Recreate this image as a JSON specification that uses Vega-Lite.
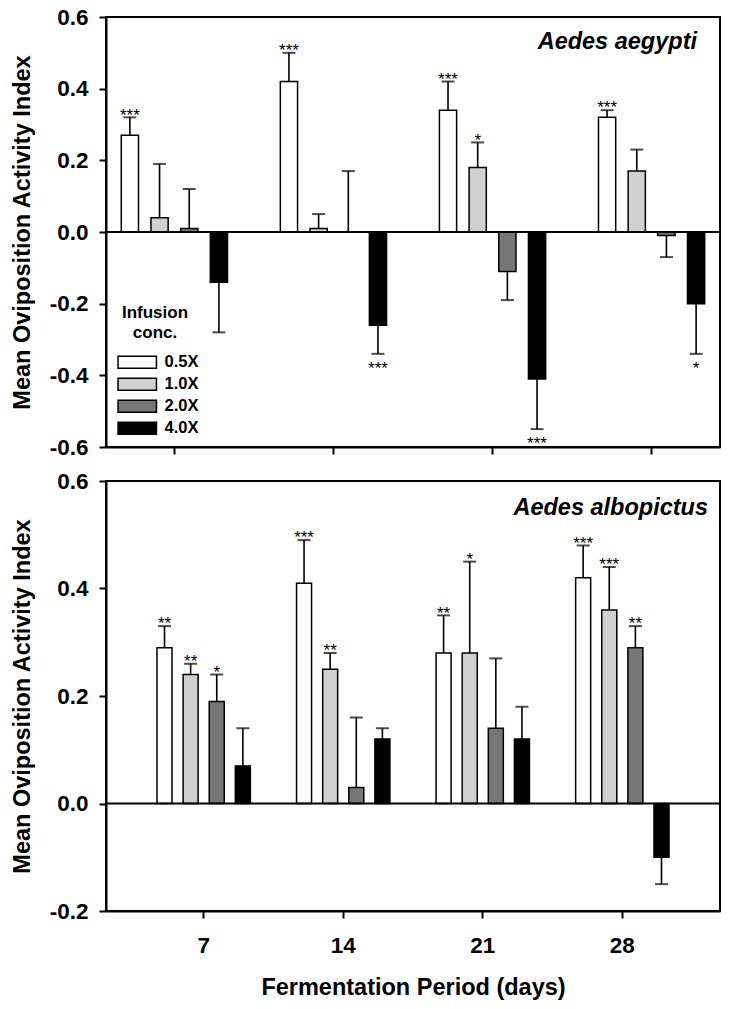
{
  "$schema": "https://vega.github.io/schema/vega-lite/v6.json",
  "padding": {"left": 9, "top": 5, "right": 5, "bottom": 5},
  "background": "white",
  "config": {
    "font": "Liberation Sans",
    "view": {"stroke": "black", "strokeWidth": 2},
    "axis": {"domainColor": "black", "domainWidth": 2, "tickColor": "black", "tickWidth": 2, "tickSize": 7, "labelColor": "black", "labelFont": "Liberation Sans", "labelFontSize": 22.5, "labelFontWeight": "bold", "titleColor": "black", "titleFont": "Liberation Sans", "titleFontSize": 23.5, "titleFontWeight": "bold", "grid": false}
  },
  "datasets": {
    "bars": [
      {"species": "Aedes aegypti", "day": 7, "conc": "0.5X", "value": 0.27, "err": 0.32, "stars": "***"},
      {"species": "Aedes aegypti", "day": 7, "conc": "1.0X", "value": 0.04, "err": 0.19, "stars": ""},
      {"species": "Aedes aegypti", "day": 7, "conc": "2.0X", "value": 0.01, "err": 0.12, "stars": ""},
      {"species": "Aedes aegypti", "day": 7, "conc": "4.0X", "value": -0.14, "err": -0.28, "stars": ""},
      {"species": "Aedes aegypti", "day": 14, "conc": "0.5X", "value": 0.42, "err": 0.50, "stars": "***"},
      {"species": "Aedes aegypti", "day": 14, "conc": "1.0X", "value": 0.01, "err": 0.05, "stars": ""},
      {"species": "Aedes aegypti", "day": 14, "conc": "2.0X", "value": 0.0, "err": 0.17, "stars": ""},
      {"species": "Aedes aegypti", "day": 14, "conc": "4.0X", "value": -0.26, "err": -0.34, "stars": "***"},
      {"species": "Aedes aegypti", "day": 21, "conc": "0.5X", "value": 0.34, "err": 0.42, "stars": "***"},
      {"species": "Aedes aegypti", "day": 21, "conc": "1.0X", "value": 0.18, "err": 0.25, "stars": "*"},
      {"species": "Aedes aegypti", "day": 21, "conc": "2.0X", "value": -0.11, "err": -0.19, "stars": ""},
      {"species": "Aedes aegypti", "day": 21, "conc": "4.0X", "value": -0.41, "err": -0.55, "stars": "***"},
      {"species": "Aedes aegypti", "day": 28, "conc": "0.5X", "value": 0.32, "err": 0.34, "stars": "***"},
      {"species": "Aedes aegypti", "day": 28, "conc": "1.0X", "value": 0.17, "err": 0.23, "stars": ""},
      {"species": "Aedes aegypti", "day": 28, "conc": "2.0X", "value": -0.01, "err": -0.07, "stars": ""},
      {"species": "Aedes aegypti", "day": 28, "conc": "4.0X", "value": -0.20, "err": -0.34, "stars": "*"},
      {"species": "Aedes albopictus", "day": 7, "conc": "0.5X", "value": 0.29, "err": 0.33, "stars": "**"},
      {"species": "Aedes albopictus", "day": 7, "conc": "1.0X", "value": 0.24, "err": 0.26, "stars": "**"},
      {"species": "Aedes albopictus", "day": 7, "conc": "2.0X", "value": 0.19, "err": 0.24, "stars": "*"},
      {"species": "Aedes albopictus", "day": 7, "conc": "4.0X", "value": 0.07, "err": 0.14, "stars": ""},
      {"species": "Aedes albopictus", "day": 14, "conc": "0.5X", "value": 0.41, "err": 0.49, "stars": "***"},
      {"species": "Aedes albopictus", "day": 14, "conc": "1.0X", "value": 0.25, "err": 0.28, "stars": "**"},
      {"species": "Aedes albopictus", "day": 14, "conc": "2.0X", "value": 0.03, "err": 0.16, "stars": ""},
      {"species": "Aedes albopictus", "day": 14, "conc": "4.0X", "value": 0.12, "err": 0.14, "stars": ""},
      {"species": "Aedes albopictus", "day": 21, "conc": "0.5X", "value": 0.28, "err": 0.35, "stars": "**"},
      {"species": "Aedes albopictus", "day": 21, "conc": "1.0X", "value": 0.28, "err": 0.45, "stars": "*"},
      {"species": "Aedes albopictus", "day": 21, "conc": "2.0X", "value": 0.14, "err": 0.27, "stars": ""},
      {"species": "Aedes albopictus", "day": 21, "conc": "4.0X", "value": 0.12, "err": 0.18, "stars": ""},
      {"species": "Aedes albopictus", "day": 28, "conc": "0.5X", "value": 0.42, "err": 0.48, "stars": "***"},
      {"species": "Aedes albopictus", "day": 28, "conc": "1.0X", "value": 0.36, "err": 0.44, "stars": "***"},
      {"species": "Aedes albopictus", "day": 28, "conc": "2.0X", "value": 0.29, "err": 0.33, "stars": "**"},
      {"species": "Aedes albopictus", "day": 28, "conc": "4.0X", "value": -0.10, "err": -0.15, "stars": ""}
    ]
  },
  "spacing": 9,
  "resolve": {"scale": {"x": "independent", "y": "independent", "xOffset": "independent", "color": "independent"}},
  "vconcat": [
    {
      "width": 614,
      "height": 430,
      "layer": [
        {
          "data": {"name": "bars"},
          "transform": [{"filter": "datum.species === 'Aedes aegypti'"}],
          "mark": {"type": "bar", "stroke": "black", "strokeWidth": 1.5},
          "encoding": {
            "x": {"field": "day", "type": "ordinal", "scale": {"paddingInner": 0.14, "paddingOuter": 0}, "axis": {"labels": false, "title": null}},
            "xOffset": {"field": "conc", "type": "nominal", "scale": {"paddingInner": 0.42, "paddingOuter": 0.515}},
            "y": {"field": "value", "type": "quantitative", "scale": {"domain": [-0.6, 0.6], "nice": false}, "axis": {"values": [-0.6, -0.4, -0.2, 0, 0.2, 0.4, 0.6], "labelExpr": "datum.value < 0 ? '-' + format(-datum.value, '.1f') : format(datum.value, '.1f')", "title": "Mean Oviposition Activity Index", "labelPadding": 11, "titlePadding": 15}},
            "color": {
              "field": "conc", "type": "nominal",
              "scale": {"domain": ["0.5X", "1.0X", "2.0X", "4.0X"], "range": ["#ffffff", "#d0d0d0", "#767676", "#000000"]},
              "legend": {
                "title": ["Infusion", "conc."],
                "orient": "none", "legendX": 16, "legendY": 288, "padding": 0,
                "symbolType": "M-3.2,-1L3.2,-1L3.2,1L-3.2,1Z", "symbolSize": 144,
                "symbolStrokeColor": "black", "symbolStrokeWidth": 1.5, "symbolOpacity": 1,
                "labelOffset": 19, "rowPadding": 3,
                "titleAnchor": "middle", "titleAlign": "center", "titleFontSize": 17, "titleFontWeight": "bold", "titleColor": "black", "titleLineHeight": 20, "titlePadding": 12,
                "labelFontSize": 16.5, "labelFontWeight": "bold", "labelColor": "black", "labelFont": "Liberation Sans", "titleFont": "Liberation Sans",
                "encode": {"title": {"update": {"dx": {"value": -9}}}}
              }
            }
          }
        },
        {
          "data": {"name": "bars"},
          "transform": [{"filter": "datum.species === 'Aedes aegypti'"}],
          "mark": {"type": "rule", "color": "black", "strokeWidth": 1.6},
          "encoding": {
            "x": {"field": "day", "type": "ordinal", "scale": {"paddingInner": 0.14, "paddingOuter": 0}, "axis": {"labels": false, "title": null}},
            "xOffset": {"field": "conc", "type": "nominal", "scale": {"paddingInner": 0.42, "paddingOuter": 0.515}},
            "y": {"field": "value", "type": "quantitative", "axis": {"values": [-0.6, -0.4, -0.2, 0, 0.2, 0.4, 0.6], "labelExpr": "datum.value < 0 ? '-' + format(-datum.value, '.1f') : format(datum.value, '.1f')", "title": "Mean Oviposition Activity Index", "labelPadding": 11, "titlePadding": 15}},
            "y2": {"field": "err"}
          }
        },
        {
          "data": {"name": "bars"},
          "transform": [{"filter": "datum.species === 'Aedes aegypti'"}],
          "mark": {"type": "tick", "color": "black", "thickness": 2, "size": 13, "orient": "horizontal"},
          "encoding": {
            "x": {"field": "day", "type": "ordinal", "scale": {"paddingInner": 0.14, "paddingOuter": 0}, "axis": {"labels": false, "title": null}},
            "xOffset": {"field": "conc", "type": "nominal", "scale": {"paddingInner": 0.42, "paddingOuter": 0.515}},
            "y": {"field": "err", "type": "quantitative", "axis": {"values": [-0.6, -0.4, -0.2, 0, 0.2, 0.4, 0.6], "labelExpr": "datum.value < 0 ? '-' + format(-datum.value, '.1f') : format(datum.value, '.1f')", "title": "Mean Oviposition Activity Index", "labelPadding": 11, "titlePadding": 15}}
          }
        },
        {
          "data": {"values": [{"z": 0}]},
          "mark": {"type": "rule", "color": "black", "strokeWidth": 2},
          "encoding": {"y": {"datum": 0, "type": "quantitative", "axis": {"values": [-0.6, -0.4, -0.2, 0, 0.2, 0.4, 0.6], "labelExpr": "datum.value < 0 ? '-' + format(-datum.value, '.1f') : format(datum.value, '.1f')", "title": "Mean Oviposition Activity Index", "labelPadding": 11, "titlePadding": 15}}}
        },
        {
          "data": {"name": "bars"},
          "transform": [{"filter": "datum.species === 'Aedes aegypti' && datum.value >= 0 && datum.stars != ''"}],
          "mark": {"type": "text", "fontSize": 17, "baseline": "alphabetic", "dy": 3.3, "color": "black"},
          "encoding": {
            "x": {"field": "day", "type": "ordinal", "scale": {"paddingInner": 0.14, "paddingOuter": 0}, "axis": {"labels": false, "title": null}},
            "xOffset": {"field": "conc", "type": "nominal", "scale": {"paddingInner": 0.42, "paddingOuter": 0.515}},
            "y": {"field": "err", "type": "quantitative", "axis": {"values": [-0.6, -0.4, -0.2, 0, 0.2, 0.4, 0.6], "labelExpr": "datum.value < 0 ? '-' + format(-datum.value, '.1f') : format(datum.value, '.1f')", "title": "Mean Oviposition Activity Index", "labelPadding": 11, "titlePadding": 15}},
            "text": {"field": "stars"}
          }
        },
        {
          "data": {"name": "bars"},
          "transform": [{"filter": "datum.species === 'Aedes aegypti' && datum.value < 0 && datum.stars != ''"}],
          "mark": {"type": "text", "fontSize": 17, "baseline": "alphabetic", "dy": 19.9, "color": "black"},
          "encoding": {
            "x": {"field": "day", "type": "ordinal", "scale": {"paddingInner": 0.14, "paddingOuter": 0}, "axis": {"labels": false, "title": null}},
            "xOffset": {"field": "conc", "type": "nominal", "scale": {"paddingInner": 0.42, "paddingOuter": 0.515}},
            "y": {"field": "err", "type": "quantitative", "axis": {"values": [-0.6, -0.4, -0.2, 0, 0.2, 0.4, 0.6], "labelExpr": "datum.value < 0 ? '-' + format(-datum.value, '.1f') : format(datum.value, '.1f')", "title": "Mean Oviposition Activity Index", "labelPadding": 11, "titlePadding": 15}},
            "text": {"field": "stars"}
          }
        },
        {
          "data": {"values": [{"label": "Aedes aegypti"}]},
          "mark": {"type": "text", "align": "right", "baseline": "alphabetic", "fontSize": 23.5, "fontWeight": "bold", "fontStyle": "italic", "dx": -23, "dy": 32, "color": "black"},
          "encoding": {"x": {"value": "width"}, "y": {"datum": 0.6, "type": "quantitative", "axis": {"values": [-0.6, -0.4, -0.2, 0, 0.2, 0.4, 0.6], "labelExpr": "datum.value < 0 ? '-' + format(-datum.value, '.1f') : format(datum.value, '.1f')", "title": "Mean Oviposition Activity Index", "labelPadding": 11, "titlePadding": 15}}, "text": {"field": "label"}}
        }
      ]
    },
    {
      "width": 614,
      "height": 430,
      "layer": [
        {
          "data": {"name": "bars"},
          "transform": [{"filter": "datum.species === 'Aedes albopictus'"}],
          "mark": {"type": "bar", "stroke": "black", "strokeWidth": 1.5},
          "encoding": {
            "x": {"field": "day", "type": "ordinal", "scale": {"paddingInner": 0.2, "paddingOuter": 0.3}, "axis": {"labelAngle": 0, "labelPadding": 16, "title": "Fermentation Period (days)", "titlePadding": 19}},
            "xOffset": {"field": "conc", "type": "nominal", "scale": {"paddingInner": 0.425, "paddingOuter": 0.35}},
            "y": {"field": "value", "type": "quantitative", "scale": {"domain": [-0.2, 0.6], "nice": false}, "axis": {"values": [-0.2, 0, 0.2, 0.4, 0.6], "labelExpr": "datum.value < 0 ? '-' + format(-datum.value, '.1f') : format(datum.value, '.1f')", "title": "Mean Oviposition Activity Index", "labelPadding": 11, "titlePadding": 15}},
            "color": {
              "field": "conc", "type": "nominal",
              "scale": {"domain": ["0.5X", "1.0X", "2.0X", "4.0X"], "range": ["#ffffff", "#d0d0d0", "#767676", "#000000"]},
              "legend": null
            }
          }
        },
        {
          "data": {"name": "bars"},
          "transform": [{"filter": "datum.species === 'Aedes albopictus'"}],
          "mark": {"type": "rule", "color": "black", "strokeWidth": 1.6},
          "encoding": {
            "x": {"field": "day", "type": "ordinal", "scale": {"paddingInner": 0.2, "paddingOuter": 0.3}, "axis": {"labelAngle": 0, "labelPadding": 16, "title": "Fermentation Period (days)", "titlePadding": 19}},
            "xOffset": {"field": "conc", "type": "nominal", "scale": {"paddingInner": 0.425, "paddingOuter": 0.35}},
            "y": {"field": "value", "type": "quantitative", "axis": {"values": [-0.2, 0, 0.2, 0.4, 0.6], "labelExpr": "datum.value < 0 ? '-' + format(-datum.value, '.1f') : format(datum.value, '.1f')", "title": "Mean Oviposition Activity Index", "labelPadding": 11, "titlePadding": 15}},
            "y2": {"field": "err"}
          }
        },
        {
          "data": {"name": "bars"},
          "transform": [{"filter": "datum.species === 'Aedes albopictus'"}],
          "mark": {"type": "tick", "color": "black", "thickness": 2, "size": 13, "orient": "horizontal"},
          "encoding": {
            "x": {"field": "day", "type": "ordinal", "scale": {"paddingInner": 0.2, "paddingOuter": 0.3}, "axis": {"labelAngle": 0, "labelPadding": 16, "title": "Fermentation Period (days)", "titlePadding": 19}},
            "xOffset": {"field": "conc", "type": "nominal", "scale": {"paddingInner": 0.425, "paddingOuter": 0.35}},
            "y": {"field": "err", "type": "quantitative", "axis": {"values": [-0.2, 0, 0.2, 0.4, 0.6], "labelExpr": "datum.value < 0 ? '-' + format(-datum.value, '.1f') : format(datum.value, '.1f')", "title": "Mean Oviposition Activity Index", "labelPadding": 11, "titlePadding": 15}}
          }
        },
        {
          "data": {"values": [{"z": 0}]},
          "mark": {"type": "rule", "color": "black", "strokeWidth": 2},
          "encoding": {"y": {"datum": 0, "type": "quantitative", "axis": {"values": [-0.2, 0, 0.2, 0.4, 0.6], "labelExpr": "datum.value < 0 ? '-' + format(-datum.value, '.1f') : format(datum.value, '.1f')", "title": "Mean Oviposition Activity Index", "labelPadding": 11, "titlePadding": 15}}}
        },
        {
          "data": {"name": "bars"},
          "transform": [{"filter": "datum.species === 'Aedes albopictus' && datum.value >= 0 && datum.stars != ''"}],
          "mark": {"type": "text", "fontSize": 17, "baseline": "alphabetic", "dy": 3.3, "color": "black"},
          "encoding": {
            "x": {"field": "day", "type": "ordinal", "scale": {"paddingInner": 0.2, "paddingOuter": 0.3}, "axis": {"labelAngle": 0, "labelPadding": 16, "title": "Fermentation Period (days)", "titlePadding": 19}},
            "xOffset": {"field": "conc", "type": "nominal", "scale": {"paddingInner": 0.425, "paddingOuter": 0.35}},
            "y": {"field": "err", "type": "quantitative", "axis": {"values": [-0.2, 0, 0.2, 0.4, 0.6], "labelExpr": "datum.value < 0 ? '-' + format(-datum.value, '.1f') : format(datum.value, '.1f')", "title": "Mean Oviposition Activity Index", "labelPadding": 11, "titlePadding": 15}},
            "text": {"field": "stars"}
          }
        },
        {
          "data": {"values": [{"label": "Aedes albopictus"}]},
          "mark": {"type": "text", "align": "right", "baseline": "alphabetic", "fontSize": 23.5, "fontWeight": "bold", "fontStyle": "italic", "dx": -12, "dy": 34, "color": "black"},
          "encoding": {"x": {"value": "width"}, "y": {"datum": 0.6, "type": "quantitative", "axis": {"values": [-0.2, 0, 0.2, 0.4, 0.6], "labelExpr": "datum.value < 0 ? '-' + format(-datum.value, '.1f') : format(datum.value, '.1f')", "title": "Mean Oviposition Activity Index", "labelPadding": 11, "titlePadding": 15}}, "text": {"field": "label"}}
        }
      ]
    }
  ]
}
